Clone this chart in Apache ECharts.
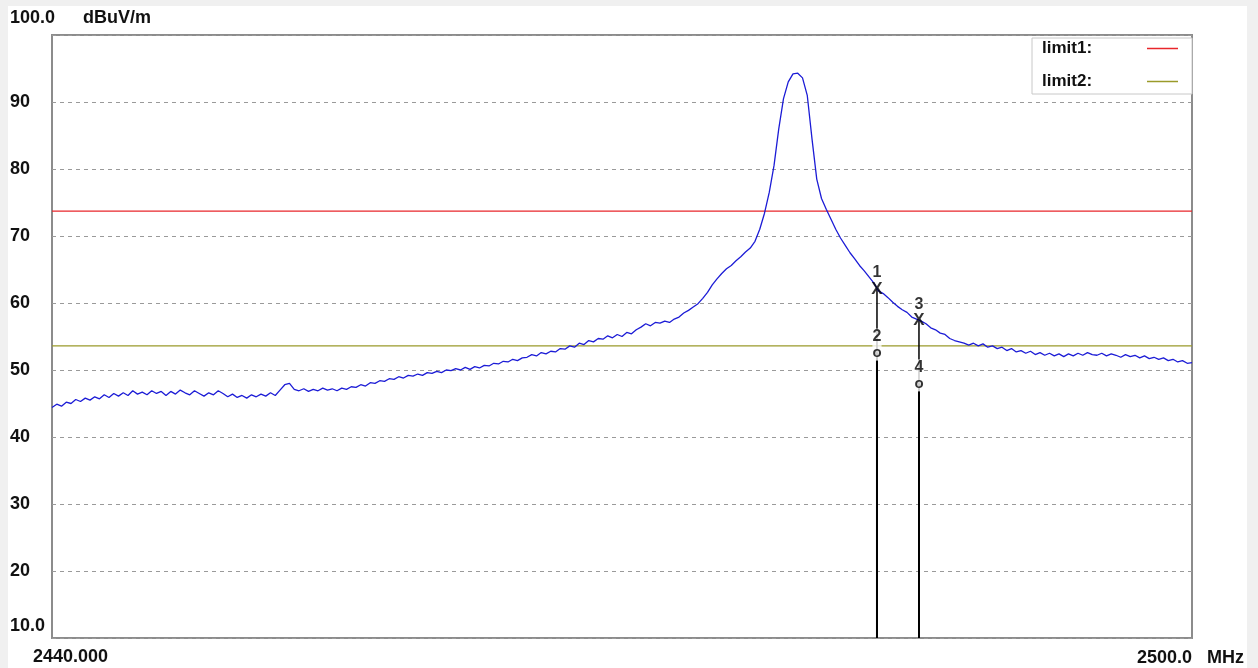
<!DOCTYPE html>
<html>
<head>
<meta charset="utf-8">
<title>Field strength sweep 2440-2500 MHz</title>
<script src="https://cdn.jsdelivr.net/npm/echarts@6/dist/echarts.min.js"></script>
<style>
  html, body { margin: 0; padding: 0; background: #f0f0f0; }
  #chart { width: 1258px; height: 668px; }
</style>
</head>
<body>
<div id="chart"></div>
<script>
// Sweep: start frequency and step in MHz, levels in dBuV/m
const freqStart = 2440;
const freqStep = 0.25;
const traceLevels = [
  44.4, 44.9, 44.6, 45.2,   45.0, 45.6, 45.3, 45.8,   45.5, 46.0, 45.7, 46.3,   45.9, 46.5, 46.1, 46.6,
  46.2, 46.9, 46.4, 46.7,   46.3, 46.9, 46.5, 46.8,   46.2, 46.8, 46.4, 47.0,   46.6, 46.3, 46.9, 46.5,
  46.1, 46.6, 46.3, 46.9,   46.5, 46.0, 46.4, 45.9,   46.2, 45.8, 46.3, 46.0,   46.4, 46.1, 46.6, 46.2,
  47.0, 47.8, 48.0, 47.1,   46.9, 47.2, 46.8, 47.1,   46.9, 47.3, 47.0, 47.2,   46.9, 47.3, 47.1, 47.5,
  47.4, 47.8, 47.6, 48.1,   48.0, 48.4, 48.3, 48.7,   48.6, 49.0, 48.8, 49.2,   49.1, 49.4, 49.2, 49.6,
  49.5, 49.8, 49.6, 50.0,   49.9, 50.2, 50.0, 50.4,   50.1, 50.5, 50.3, 50.7,   50.6, 51.0, 50.9, 51.3,
  51.2, 51.6, 51.4, 51.8,   51.9, 52.3, 52.1, 52.6,   52.4, 52.8, 52.7, 53.2,   53.1, 53.6, 53.4, 54.0,
  53.8, 54.4, 54.2, 54.7,   54.6, 55.1, 54.8, 55.3,   55.0, 55.6, 55.4, 56.0,   56.4, 56.9, 56.6, 57.1,
  57.0, 57.3, 57.1, 57.6,   57.9, 58.5, 58.9, 59.4,   59.9, 60.7, 61.6, 62.7,   63.6, 64.4, 65.1, 65.6,
  66.3, 66.9, 67.6, 68.2,   69.2, 71.0, 73.4, 76.5,   80.5, 86.0, 90.5, 93.0,   94.2, 94.3, 93.6, 91.0,
  84.5, 78.5, 75.6, 74.0,   72.5, 71.0, 69.7, 68.6,   67.5, 66.6, 65.6, 64.8,   63.9, 63.0, 61.8, 61.4,
  60.8, 60.1, 59.5, 59.0,   58.6, 57.9, 57.6, 57.3,   56.9, 56.3, 56.0, 55.5,   55.3, 54.7, 54.4, 54.2,
  54.0, 53.7, 54.0, 53.6,   53.9, 53.4, 53.6, 53.2,   53.4, 52.9, 53.2, 52.7,   52.9, 52.5, 52.8, 52.3,
  52.6, 52.2, 52.5, 52.1,   52.4, 52.0, 52.4, 52.1,   52.5, 52.2, 52.6, 52.3,   52.2, 52.5, 52.1, 52.4,
  52.2, 51.9, 52.3, 52.0,   52.2, 51.8, 52.1, 51.7,   51.9, 51.6, 51.8, 51.4,   51.6, 51.2, 51.4, 51.0,
  51.1
];

// Limit lines
const limitNames = ['limit1', 'limit2'];
const limitLevels = [73.7, 53.6];
const limitColors = ['#e8262b', '#9a9a2a'];

// Markers
const markerIds = ['1', '2', '3', '4'];
const markerFreqs = [2483.42, 2483.42, 2485.63, 2485.63];
const markerLevels = [62.1, 52.6, 57.4, 48.0];
const markerGlyphs = ['X', 'o', 'X', 'o'];

// Axes
const freqRange = [2440, 2500];
const levelRange = [10, 100];
const levelTicks = [20, 30, 40, 50, 60, 70, 80, 90];
const levelEndLabels = ['10.0', '100.0'];
const freqEndLabels = ['2440.000', '2500.0'];
const levelUnit = 'dBuV/m';
const freqUnit = 'MHz';

const FONT = '"Liberation Sans", Arial, sans-serif';
const boldText = (size) => 'bold ' + size + 'px ' + FONT;

const chart = echarts.init(document.getElementById('chart'), null, { renderer: 'canvas' });

const traceData = traceLevels.map((v, i) => [freqStart + i * freqStep, v]);

const limitSeries = limitNames.map((name, i) => ({
  name: name,
  type: 'line',
  data: [[freqRange[0], limitLevels[i]], [freqRange[1], limitLevels[i]]],
  symbol: 'none',
  showSymbol: false,
  lineStyle: { color: limitColors[i], width: 1.3 },
  itemStyle: { color: limitColors[i] },
  z: 3,
  silent: true
}));

const markerLineSeries = markerIds.map((id, i) => ({
  name: 'marker' + id,
  type: 'line',
  data: [[markerFreqs[i], markerLevels[i]], [markerFreqs[i], levelRange[0]]],
  symbol: 'none',
  lineStyle: { color: '#000', width: markerGlyphs[i] === 'o' ? 2 : 1.5 },
  z: 4,
  silent: true
}));

const markerLabelSeries = {
  name: 'markers',
  type: 'scatter',
  symbolSize: 1,
  itemStyle: { color: 'rgba(0,0,0,0)' },
  z: 6,
  silent: true,
  data: markerIds.map((id, i) => ({
    value: [markerFreqs[i], markerLevels[i]],
    label: {
      show: true,
      position: 'inside',
      offset: [0, -8],
      formatter: '{n|' + id + '}\n{g|' + markerGlyphs[i] + '}',
      backgroundColor: markerGlyphs[i] === 'o' ? '#fff' : 'transparent',
      rich: {
        n: { fontFamily: FONT, fontSize: 16, fontWeight: 'bold', color: '#000', lineHeight: 16, align: 'center' },
        g: { fontFamily: FONT, fontSize: markerGlyphs[i] === 'X' ? 17 : 15, fontWeight: 'bold', color: '#000', lineHeight: 16, align: 'center' }
      }
    }
  }))
};

const option = {
  animation: false,
  graphic: [
    { type: 'rect', z: -100, shape: { x: 8, y: 6, width: 1239, height: 662 }, style: { fill: '#fff' }, silent: true },
    { type: 'text', x: 10, y: 18, style: { text: levelEndLabels[1], font: boldText(18), fill: '#111', align: 'left', verticalAlign: 'middle' } },
    { type: 'text', x: 83, y: 18, style: { text: levelUnit, font: boldText(18), fill: '#111', align: 'left', verticalAlign: 'middle' } },
    { type: 'text', x: 45, y: 626, style: { text: levelEndLabels[0], font: boldText(18), fill: '#111', align: 'right', verticalAlign: 'middle' } },
    { type: 'text', x: 33, y: 657, style: { text: freqEndLabels[0], font: boldText(18), fill: '#111', align: 'left', verticalAlign: 'middle' } },
    { type: 'text', x: 1192, y: 658, style: { text: freqEndLabels[1], font: boldText(18), fill: '#111', align: 'right', verticalAlign: 'middle' } },
    { type: 'text', x: 1207, y: 658, style: { text: freqUnit, font: boldText(18), fill: '#111', align: 'left', verticalAlign: 'middle' } }
  ],
  grid: {
    left: 52, right: 66, top: 35, bottom: 30,
    show: true,
    backgroundColor: '#fff',
    borderColor: '#8c8c8c',
    borderWidth: 2
  },
  legend: {
    data: limitNames.map((n) => ({ name: n, icon: 'rect' })),
    orient: 'vertical',
    right: 66,
    top: 38,
    align: 'right',
    itemWidth: 31,
    itemHeight: 1.5,
    itemGap: 16,
    padding: [2, 14, 4, 10],
    borderColor: '#c8c8c8',
    borderWidth: 1,
    backgroundColor: '#fff',
    selectedMode: false,
    formatter: (n) => '{t|' + n + ':}',
    textStyle: {
      align: 'left',
      rich: {
        t: { fontFamily: FONT, fontSize: 17, fontWeight: 'bold', color: '#111', width: 100, lineHeight: 16, align: 'left' }
      }
    }
  },
  xAxis: {
    type: 'value',
    min: freqRange[0],
    max: freqRange[1],
    axisLine: { show: false },
    axisTick: { show: false },
    axisLabel: { show: false },
    splitLine: { show: false }
  },
  yAxis: {
    type: 'value',
    min: levelRange[0],
    max: levelRange[1],
    interval: 10,
    axisLine: { show: false },
    axisTick: { show: false },
    axisLabel: {
      margin: 22,
      fontFamily: FONT,
      fontSize: 18,
      fontWeight: 'bold',
      color: '#111',
      formatter: (v) => (levelTicks.indexOf(v) >= 0 ? String(v) : '')
    },
    splitLine: { show: true, lineStyle: { color: '#9a9a9a', width: 1, type: [4, 4] } }
  },
  series: [
    {
      name: 'trace',
      type: 'line',
      data: traceData,
      showSymbol: false,
      symbol: 'none',
      lineStyle: { color: '#1c1cd6', width: 1.3 },
      z: 5,
      silent: true
    },
    ...limitSeries,
    ...markerLineSeries,
    markerLabelSeries
  ]
};

chart.setOption(option);
</script>
</body>
</html>
